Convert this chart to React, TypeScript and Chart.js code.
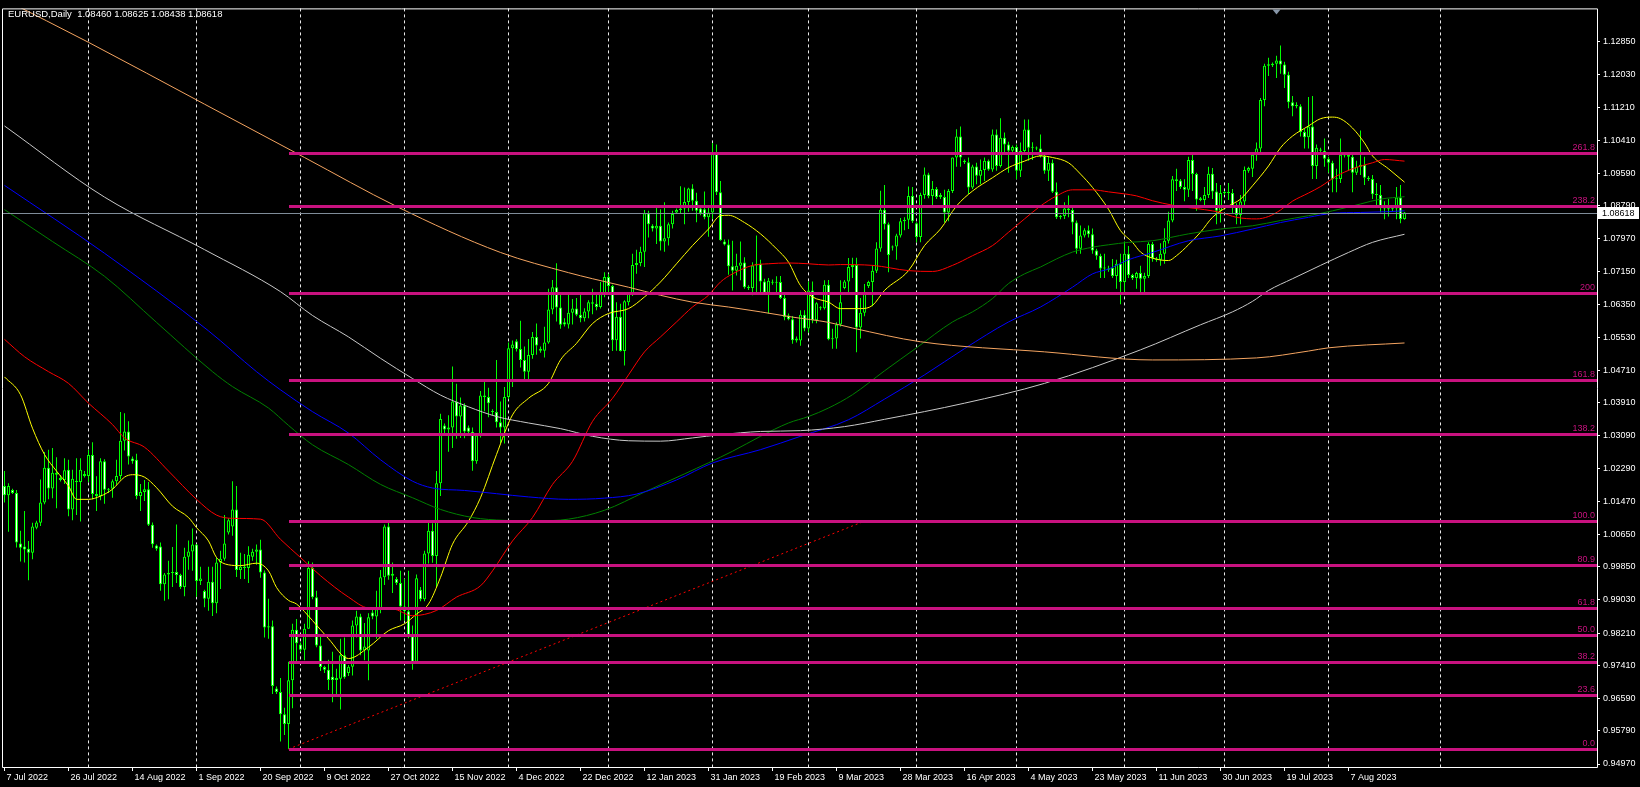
import React, { useEffect, useRef } from "react";
import { Chart, registerables } from "chart.js";
Chart.register(...registerables);

// ---------- DATA ----------
const chartTitle = "EURUSD,Daily  1.08460 1.08625 1.08438 1.08618";
const currentPrice = 1.08618;

const opens = [
1.0185,1.0162,1.0175,1.0168,1.0043,1.0035,1.0030,1.0020,1.0082,1.0094,
1.0144,1.0230,1.0179,1.0218,1.0205,1.0200,1.0225,1.0127,1.0198,1.0195,
1.0215,1.0210,1.0262,1.0165,1.0160,1.0246,1.0176,1.0178,1.0197,1.0210,
1.0297,1.0320,1.0253,1.0250,1.0160,1.0170,1.0177,1.0089,1.0038,1.0035,
0.9942,0.9966,0.9970,0.9972,0.9965,0.9935,1.0010,1.0023,1.0040,0.9950,
0.9925,0.9906,0.9948,0.9895,0.9996,1.0005,1.0070,1.0085,1.0127,0.9977,
0.9985,0.9982,1.0010,1.0022,1.0028,0.9971,0.9835,0.9838,0.9684,0.9675,
0.9620,0.9596,0.9704,0.9829,0.9793,0.9780,0.9832,0.9982,0.9910,0.9790,
0.9737,0.9730,0.9713,0.9705,0.9708,0.9766,0.9722,0.9738,0.9840,0.9862,
0.9778,0.9778,0.9872,0.9862,0.9880,0.9959,1.0085,0.9963,0.9955,0.9945,
0.9887,0.9875,0.9813,0.9750,0.9928,0.9905,1.0018,1.0074,1.0012,1.0192,
1.0335,1.0325,1.0330,1.0394,1.0357,1.0384,1.0330,1.0319,1.0246,1.0310,
1.0409,1.0405,1.0370,1.0368,1.0343,1.0330,1.0405,1.0526,1.0543,1.0524,
1.0497,1.0468,1.0509,1.0554,1.0525,1.0520,1.0540,1.0622,1.0677,1.0627,
1.0590,1.0585,1.0614,1.0624,1.0609,1.0600,1.0617,1.0640,1.0636,1.0628,
1.0661,1.0702,1.0680,1.0546,1.0604,1.0519,1.0640,1.0661,1.0732,1.0737,
1.0765,1.0860,1.0829,1.0822,1.0829,1.0790,1.0798,1.0833,1.0862,1.0868,
1.0872,1.0888,1.0921,1.0891,1.0872,1.0870,1.0850,1.0862,1.1010,1.0912,
1.0790,1.0783,1.0729,1.0718,1.0730,1.0738,1.0678,1.0675,1.0731,1.0735,
1.0691,1.0663,1.0690,1.0688,1.0690,1.0650,1.0607,1.0598,1.0550,1.0545,
1.0609,1.0575,1.0669,1.0595,1.0627,1.0625,1.0683,1.0548,1.0550,1.0585,
1.0675,1.0691,1.0727,1.0732,1.0577,1.0614,1.0680,1.0690,1.0718,1.0773,
1.0869,1.0833,1.0775,1.0778,1.0805,1.0840,1.0844,1.0903,1.0835,1.0801,
1.0905,1.0956,1.0903,1.0920,1.0905,1.0900,1.0862,1.0915,1.0998,1.1050,
1.0990,1.0986,1.0924,1.0976,1.0953,1.0967,1.0990,1.0968,1.1055,1.0977,
1.1047,1.1030,1.1015,1.1024,1.0965,1.1014,1.1067,1.1022,1.1020,1.1020,
1.1002,1.0965,1.0985,1.0913,1.0851,1.0853,1.0872,1.0868,1.0837,1.0772,
1.0805,1.0818,1.0808,1.0768,1.0755,1.0723,1.0723,1.0725,1.0705,1.0735,
1.0690,1.0760,1.0707,1.0700,1.0712,1.0698,1.0705,1.0784,1.0748,1.0745,
1.0760,1.0792,1.0842,1.0944,1.0941,1.0925,1.0918,1.0992,1.0957,1.0897,
1.0893,1.0905,1.0958,1.0914,1.0866,1.0910,1.0912,1.0910,1.0878,1.0856,
1.0889,1.0965,1.0970,1.1005,1.1020,1.1140,1.1225,1.1226,1.1230,1.1238,
1.1228,1.1203,1.1135,1.1128,1.1125,1.1061,1.1048,1.1075,1.0977,1.1018,
1.1015,1.0995,1.0985,1.0944,1.0945,1.1003,1.1005,1.1000,1.0960,1.0975,
1.0980,1.0948,1.0945,1.0907,1.0905,1.0875,1.0872,1.0870,1.0872,1.0899,
1.0846];

const highs = [
1.0222,1.0192,1.0178,1.0175,1.0074,1.0123,1.0049,1.0094,1.0099,1.0201,
1.0269,1.0275,1.0279,1.0256,1.0212,1.0254,1.0250,1.0225,1.0254,1.0254,
1.0222,1.0275,1.0293,1.0209,1.0254,1.0251,1.0180,1.0201,1.0250,1.0368,
1.0365,1.0345,1.0258,1.0265,1.0190,1.0200,1.0195,1.0095,1.0040,1.0045,
0.9970,1.0000,1.0034,1.0090,0.9968,1.0032,1.0050,1.0080,1.0041,0.9985,
0.9928,0.9985,0.9985,1.0008,1.0025,1.0113,1.0105,1.0197,1.0185,1.0020,
1.0017,1.0036,1.0030,1.0040,1.0052,0.9976,0.9906,0.9852,0.9689,0.9710,
0.9636,0.9750,0.9844,0.9856,0.9798,0.9844,0.9999,0.9996,0.9926,0.9817,
0.9740,0.9755,0.9775,0.9733,0.9807,0.9810,0.9742,0.9852,0.9876,0.9869,
0.9846,0.9870,0.9878,0.9926,0.9977,1.0090,1.0094,0.9996,0.9960,0.9975,
0.9955,0.9975,0.9840,0.9966,0.9935,1.0025,1.0094,1.0093,1.0222,1.0364,
1.0340,1.0360,1.0481,1.0438,1.0404,1.0390,1.0335,1.0330,1.0313,1.0420,
1.0444,1.0428,1.0375,1.0497,1.0394,1.0430,1.0540,1.0545,1.0548,1.0594,
1.0530,1.0549,1.0566,1.0587,1.0530,1.0579,1.0673,1.0695,1.0736,1.0660,
1.0600,1.0661,1.0648,1.0650,1.0661,1.0625,1.0645,1.0673,1.0665,1.0690,
1.0714,1.0710,1.0683,1.0640,1.0636,1.0645,1.0665,1.0760,1.0770,1.0777,
1.0868,1.0866,1.0833,1.0874,1.0870,1.0887,1.0837,1.0866,1.0872,1.0927,
1.0924,1.0923,1.0932,1.0911,1.0875,1.0914,1.0875,1.1034,1.1030,1.0940,
1.0795,1.0795,1.0792,1.0760,1.0790,1.0751,1.0682,1.0739,1.0805,1.0745,
1.0698,1.0700,1.0696,1.0704,1.0705,1.0660,1.0612,1.0606,1.0555,1.0620,
1.0620,1.0691,1.0691,1.0640,1.0630,1.0694,1.0695,1.0574,1.0590,1.0694,
1.0695,1.0749,1.0750,1.0750,1.0650,1.0685,1.0693,1.0731,1.0788,1.0916,
1.0930,1.0837,1.0780,1.0809,1.0848,1.0850,1.0926,1.0925,1.0838,1.0911,
1.0973,1.0960,1.0940,1.0925,1.0910,1.0918,1.0920,1.0998,1.1068,1.1075,
1.0993,1.0998,1.0980,1.0985,1.0993,1.0998,1.0993,1.1067,1.1067,1.1095,
1.1060,1.1037,1.1028,1.1030,1.1035,1.1092,1.1092,1.1036,1.1025,1.1055,
1.1005,1.1000,1.0993,1.0936,1.0856,1.0887,1.0904,1.0880,1.0842,1.0830,
1.0823,1.0830,1.0822,1.0772,1.0760,1.0760,1.0730,1.0747,1.0745,1.0760,
1.0790,1.0779,1.0710,1.0715,1.0730,1.0713,1.0788,1.0789,1.0752,1.0786,
1.0823,1.0864,1.0952,1.0970,1.0945,1.0944,1.1000,1.1011,1.0960,1.0900,
1.0925,1.0975,1.0972,1.0935,1.0930,1.0915,1.0935,1.0920,1.0885,1.0905,
1.0976,1.0975,1.1010,1.1035,1.1145,1.1230,1.1245,1.1233,1.1250,1.1275,
1.1235,1.1210,1.1150,1.1135,1.1130,1.1070,1.1148,1.1150,1.1030,1.1022,
1.1045,1.1000,1.0990,1.0970,1.1045,1.1008,1.1010,1.1010,1.0990,1.1065,
1.1000,1.0952,1.0955,1.0935,1.0930,1.0890,1.0895,1.0880,1.0925,1.0930,
1.0863];

const lows = [
1.0144,1.0072,1.0165,1.0033,0.9998,0.9996,0.9952,1.0004,1.0078,1.0086,
1.0140,1.0152,1.0155,1.0130,1.0196,1.0190,1.0110,1.0100,1.0113,1.0097,
1.0206,1.0195,1.0152,1.0123,1.0150,1.0141,1.0168,1.0156,1.0188,1.0201,
1.0273,1.0238,1.0240,1.0152,1.0123,1.0148,1.0086,1.0032,1.0025,0.9926,
0.9901,0.9905,0.9935,0.9945,0.9930,0.9912,0.9978,0.9975,0.9911,0.9940,
0.9885,0.9876,0.9863,0.9870,0.9930,1.0000,1.0065,1.0062,0.9960,0.9955,
0.9955,0.9945,1.0000,0.9990,0.9958,0.9810,0.9807,0.9670,0.9670,0.9553,
0.9569,0.9534,0.9635,0.9750,0.9775,0.9754,0.9832,0.9905,0.9786,0.9727,
0.9722,0.9680,0.9650,0.9665,0.9632,0.9708,0.9715,0.9716,0.9810,0.9766,
0.9754,0.9704,0.9855,0.9807,0.9870,0.9940,0.9953,0.9920,0.9940,0.9852,
0.9852,0.9808,0.9730,0.9745,0.9900,0.9900,0.9993,0.9995,0.9935,1.0160,
1.0310,1.0270,1.0279,1.0302,1.0304,1.0303,1.0312,1.0223,1.0240,1.0305,
1.0370,1.0355,1.0360,1.0330,1.0290,1.0290,1.0400,1.0430,1.0518,1.0478,
1.0443,1.0443,1.0500,1.0510,1.0515,1.0503,1.0537,1.0610,1.0592,1.0574,
1.0580,1.0575,1.0585,1.0605,1.0590,1.0592,1.0600,1.0610,1.0620,1.0624,
1.0652,1.0665,1.0519,1.0520,1.0518,1.0483,1.0632,1.0655,1.0710,1.0729,
1.0727,1.0800,1.0815,1.0784,1.0768,1.0765,1.0780,1.0822,1.0858,1.0860,
1.0833,1.0864,1.0866,1.0838,1.0855,1.0845,1.0802,1.0845,1.0905,1.0792,
1.0780,1.0708,1.0669,1.0706,1.0694,1.0673,1.0670,1.0657,1.0665,1.0661,
1.0658,1.0612,1.0683,1.0664,1.0648,1.0595,1.0595,1.0537,1.0540,1.0532,
1.0568,1.0565,1.0588,1.0588,1.0620,1.0622,1.0546,1.0525,1.0525,1.0580,
1.0672,1.0660,1.0700,1.0516,1.0550,1.0605,1.0675,1.0630,1.0712,1.0765,
1.0820,1.0714,1.0768,1.0745,1.0800,1.0818,1.0821,1.0836,1.0788,1.0788,
1.0896,1.0897,1.0880,1.0895,1.0895,1.0837,1.0840,1.0910,1.0975,1.0975,
1.0982,1.0907,1.0920,1.0932,1.0932,1.0940,1.0965,1.0963,1.0965,1.0973,
1.1010,1.0960,1.1010,1.0945,1.0950,1.1008,1.0990,1.0992,1.1016,1.0998,
1.0958,1.0940,1.0910,1.0846,1.0845,1.0846,1.0850,1.0808,1.0760,1.0760,
1.0800,1.0800,1.0760,1.0745,1.0700,1.0700,1.0715,1.0700,1.0673,1.0635,
1.0665,1.0700,1.0695,1.0673,1.0665,1.0665,1.0700,1.0740,1.0740,1.0730,
1.0735,1.0785,1.0838,1.0915,1.0920,1.0890,1.0900,1.0915,1.0866,1.0890,
1.0880,1.0898,1.0895,1.0833,1.0837,1.0905,1.0893,1.0860,1.0833,1.0833,
1.0880,1.0960,1.0950,1.0990,1.1010,1.1125,1.1200,1.1222,1.1195,1.1205,
1.1170,1.1120,1.1100,1.1120,1.1050,1.1020,1.1020,1.0945,1.0945,1.1010,
1.0975,1.0960,1.0912,1.0912,1.0935,1.0998,1.0965,1.0912,1.0955,1.0955,
1.0930,1.0940,1.0895,1.0880,1.0862,1.0845,1.0852,1.0865,1.0845,1.0835,
1.0844];

const closes = [
1.0162,1.0185,1.0168,1.0045,1.0032,1.0028,1.0020,1.0085,1.0095,1.0144,
1.0230,1.0179,1.0218,1.0213,1.0200,1.0224,1.0127,1.0203,1.0195,1.0225,
1.0210,1.0262,1.0165,1.0160,1.0246,1.0176,1.0178,1.0197,1.0210,1.0297,
1.0320,1.0258,1.0246,1.0160,1.0170,1.0177,1.0089,1.0041,1.0030,0.9942,
0.9966,0.9970,0.9972,0.9965,0.9935,1.0010,1.0023,1.0040,0.9950,0.9956,
0.9906,0.9948,0.9895,0.9996,1.0005,1.0043,1.0100,1.0127,0.9977,0.9985,
0.9982,1.0015,1.0022,1.0028,0.9971,0.9835,0.9838,0.9690,0.9675,0.9620,
0.9596,0.9704,0.9829,0.9796,0.9780,0.9832,0.9982,0.9910,0.9790,0.9737,
0.9730,0.9705,0.9705,0.9710,0.9766,0.9712,0.9738,0.9840,0.9862,0.9778,
0.9788,0.9860,0.9862,0.9880,0.9959,1.0085,0.9963,0.9968,0.9945,0.9887,
0.9875,0.9813,0.9750,0.9957,0.9905,1.0018,1.0074,1.0012,1.0192,1.0351,
1.0325,1.0330,1.0394,1.0357,1.0384,1.0320,1.0319,1.0246,1.0310,1.0409,
1.0405,1.0390,1.0368,1.0343,1.0330,1.0405,1.0526,1.0535,1.0524,1.0497,
1.0468,1.0509,1.0554,1.0533,1.0520,1.0540,1.0622,1.0677,1.0627,1.0584,
1.0585,1.0614,1.0624,1.0609,1.0600,1.0617,1.0640,1.0636,1.0628,1.0661,
1.0702,1.0680,1.0546,1.0604,1.0519,1.0642,1.0661,1.0732,1.0737,1.0765,
1.0860,1.0833,1.0822,1.0829,1.0790,1.0798,1.0833,1.0858,1.0868,1.0872,
1.0888,1.0921,1.0891,1.0866,1.0860,1.0850,1.0862,1.1010,1.0912,1.0793,
1.0783,1.0729,1.0718,1.0730,1.0738,1.0677,1.0675,1.0731,1.0735,1.0691,
1.0663,1.0693,1.0688,1.0690,1.0650,1.0603,1.0598,1.0546,1.0545,1.0609,
1.0575,1.0669,1.0595,1.0637,1.0625,1.0683,1.0548,1.0550,1.0585,1.0640,
1.0691,1.0727,1.0732,1.0577,1.0614,1.0665,1.0690,1.0718,1.0773,1.0869,
1.0833,1.0757,1.0778,1.0805,1.0840,1.0844,1.0903,1.0840,1.0801,1.0905,
1.0956,1.0903,1.0920,1.0900,1.0900,1.0862,1.0915,1.0998,1.1050,1.0998,
1.0986,1.0924,1.0976,1.0953,1.0967,1.0990,1.0968,1.1055,1.0977,1.1047,
1.1030,1.1015,1.1024,1.0965,1.1014,1.1067,1.1022,1.1024,1.1020,1.1002,
1.0965,1.0985,1.0913,1.0850,1.0853,1.0872,1.0868,1.0837,1.0772,1.0805,
1.0818,1.0808,1.0768,1.0755,1.0723,1.0725,1.0720,1.0705,1.0735,1.0690,
1.0760,1.0707,1.0700,1.0712,1.0698,1.0705,1.0784,1.0748,1.0745,1.0760,
1.0792,1.0842,1.0944,1.0940,1.0925,1.0918,1.0992,1.0957,1.0894,1.0893,
1.0905,1.0958,1.0914,1.0866,1.0910,1.0912,1.0910,1.0878,1.0856,1.0889,
1.0967,1.0972,1.1005,1.1020,1.1140,1.1225,1.1229,1.1230,1.1238,1.1228,
1.1203,1.1135,1.1125,1.1125,1.1061,1.1048,1.1075,1.0977,1.1022,1.1015,
1.0995,1.0985,1.0944,1.0945,1.1005,1.1005,1.1000,1.0960,1.0975,1.0980,
1.0948,1.0945,1.0907,1.0905,1.0875,1.0872,1.0870,1.0872,1.0899,1.0846,
1.0862];

// Moving averages (bar index, price)
const yellowIdx = [0,4,7,10,13,16,18,21,24,27,30,32,35,38,42,46,48,51,53,56,59,63,66,68,71,73,77,81,86,91,96,100,103,106,109,112,116,119,123,127,131,136,139,143,147,151,156,160,164,168,172,176,179,181,185,189,193,196,199,202,206,209,214,217,220,226,230,234,238,242,247,251,255,259,262,266,269,272,276,279,282,284,287,291,293,296,299,302,306,309,312,316,319,322,326,329,332,334,337,340,342,346,350];
const yellowVal = [1.0455,1.0411,1.0328,1.0263,1.0222,1.0185,1.0152,1.0152,1.0160,1.0177,1.0207,1.0213,1.0207,1.0181,1.0135,1.0107,1.0082,1.0049,1.0008,0.9990,0.9988,0.9994,0.9975,0.9934,0.9902,0.9893,0.9852,0.9807,0.9758,0.9786,0.9827,0.9844,0.9868,0.9893,0.9959,1.0041,1.0098,1.0156,1.0263,1.0361,1.0402,1.0439,1.0497,1.0538,1.0587,1.0612,1.0624,1.0653,1.0690,1.0735,1.0780,1.0821,1.0854,1.0855,1.0837,1.0809,1.0772,1.0739,1.0681,1.0653,1.0640,1.0624,1.0624,1.0632,1.0669,1.0718,1.0780,1.0821,1.0878,1.0915,1.0948,1.0973,1.0989,1.1002,1.0998,1.0985,1.0957,1.0924,1.0870,1.0817,1.0788,1.0764,1.0749,1.0743,1.0755,1.0782,1.0813,1.0850,1.0878,1.0895,1.0928,1.0977,1.1022,1.1051,1.1076,1.1094,1.1098,1.1094,1.1071,1.1034,1.1002,1.0970,1.0937];

const redIdx = [0,5,11,16,21,27,30,35,41,48,53,57,64,69,74,79,86,91,97,102,108,113,119,122,127,132,137,142,147,152,156,160,164,168,172,176,179,182,187,191,196,201,206,209,217,226,232,237,242,247,251,255,259,263,267,272,276,280,283,287,292,296,300,304,308,313,316,319,322,326,329,333,337,342,345,350];
const redVal = [1.0548,1.0505,1.0468,1.0439,1.0390,1.0337,1.0304,1.0281,1.0222,1.0152,1.0113,1.0105,1.0103,1.0053,1.0008,0.9963,0.9910,0.9883,0.9881,0.9864,0.9877,0.9910,0.9938,0.9975,1.0049,1.0107,1.0189,1.0246,1.0345,1.0402,1.0460,1.0517,1.0554,1.0591,1.0628,1.0657,1.0690,1.0710,1.0731,1.0735,1.0737,1.0735,1.0732,1.0733,1.0731,1.0718,1.0716,1.0731,1.0755,1.0780,1.0813,1.0846,1.0878,1.0903,1.0918,1.0918,1.0913,1.0908,1.0903,1.0891,1.0880,1.0874,1.0869,1.0862,1.0850,1.0846,1.0852,1.0868,1.0890,1.0910,1.0926,1.0952,1.0970,1.0985,1.0993,1.0989];

const greenIdx = [0,12,25,38,52,57,66,71,77,86,94,102,109,117,125,133,141,150,160,170,182,189,196,201,206,212,220,228,237,242,247,251,255,259,263,267,272,276,281,287,296,304,312,319,326,332,339,344,350];
const greenVal = [1.0869,1.0790,1.0704,1.0590,1.0468,1.0431,1.0378,1.0335,1.0287,1.0238,1.0189,1.0156,1.0127,1.0107,1.0100,1.0099,1.0103,1.0125,1.0170,1.0215,1.0271,1.0308,1.0341,1.0357,1.0378,1.0411,1.0470,1.0527,1.0591,1.0616,1.0649,1.0686,1.0710,1.0727,1.0747,1.0764,1.0776,1.0782,1.0788,1.0792,1.0809,1.0821,1.0829,1.0842,1.0854,1.0866,1.0883,1.0895,1.0901];

const blueIdx = [0,25,51,63,69,77,86,94,102,107,115,123,131,141,150,158,168,177,189,199,211,220,230,240,251,259,267,272,276,281,287,296,304,312,319,326,332,339,346,350];
const blueVal = [1.0929,1.0761,1.0569,1.0468,1.0423,1.0369,1.0316,1.0250,1.0197,1.0180,1.0174,1.0166,1.0158,1.0152,1.0155,1.0165,1.0200,1.0242,1.0275,1.0308,1.0349,1.0400,1.0460,1.0525,1.0591,1.0628,1.0677,1.0710,1.0722,1.0745,1.0763,1.0792,1.0804,1.0821,1.0837,1.0850,1.0860,1.0862,1.0864,1.0866];

const whiteIdx = [0,25,50,69,77,86,94,102,109,116,123,131,139,147,156,164,172,179,189,199,210,220,240,260,284,299,307,312,316,322,329,336,342,350];
const whiteVal = [1.1076,1.0900,1.0770,1.0666,1.0607,1.0554,1.0501,1.0451,1.0410,1.0381,1.0357,1.0341,1.0327,1.0308,1.0297,1.0296,1.0304,1.0312,1.0320,1.0322,1.0332,1.0350,1.0390,1.0439,1.0522,1.0584,1.0616,1.0642,1.0669,1.0698,1.0731,1.0763,1.0788,1.0808];

const orangeIdx = [0,21,50,75,98,124,141,147,156,164,172,181,189,197,206,212,229,260,287,313,326,331,350];
const orangeVal = [1.1389,1.1283,1.1130,1.0998,1.0877,1.0763,1.0713,1.0698,1.0677,1.0657,1.0640,1.0628,1.0616,1.0603,1.0590,1.0576,1.0542,1.0517,1.0497,1.0502,1.0519,1.0527,1.0539];

// Fibonacci tool
const fibStartIndex = 71;
const fibPrices = [0.9534,0.9667,0.9749,0.9816,0.9883,0.9990,1.0098,1.0313,1.0447,1.0662,1.0877,1.1010];
const fibLabels = ["0.0","23.6","38.2","50.0","61.8","80.9","100.0","138.2","161.8","200","238.2","261.8"];
const trendIdx = [71, 215];
const trendVal = [0.9534, 1.0098];

// Axes
const yTickValues = [1.12850,1.12030,1.11210,1.10410,1.09590,1.08790,1.07970,1.07150,1.06350,1.05530,1.04710,1.03910,1.03090,1.02290,1.01470,1.00650,0.99850,0.99030,0.98210,0.97410,0.96590,0.95790,0.94970];
const xTickIndex = [0,16,32,48,64,80,96,112,128,144,160,176,192,208,224,240,256,272,288,304,320,336];
const xTickLabels = ["7 Jul 2022","26 Jul 2022","14 Aug 2022","1 Sep 2022","20 Sep 2022","9 Oct 2022","27 Oct 2022","15 Nov 2022","4 Dec 2022","22 Dec 2022","12 Jan 2023","31 Jan 2023","19 Feb 2023","9 Mar 2023","28 Mar 2023","16 Apr 2023","4 May 2023","23 May 2023","11 Jun 2023","30 Jun 2023","19 Jul 2023","7 Aug 2023"];
const monthGridIndex = [21,48,74,100,126,151,177,201,228,253,280,305,331,359];
const shiftMarkerIndex = 318;

// ---------- STYLE ----------
const FONT = '"Liberation Sans", Arial, sans-serif';
const FIB_COLOR = "#C8127F";
const X_MIN = -0.625;
const X_MAX = 398.125;
const Y_MIN = 0.94896;
const Y_MAX = 1.1367;

const line = (xs: number[], ys: number[], color: string, order = 1) => ({
  type: "line" as const,
  data: xs.map((x, k) => ({ x, y: ys[k] })),
  borderColor: color,
  borderWidth: 1,
  pointRadius: 0,
  cubicInterpolationMode: "monotone" as const,
  order,
});

export default function App() {
  const ref = useRef<HTMLCanvasElement>(null);

  useEffect(() => {
    document.body.style.margin = "0";
    document.body.style.background = "#000";
    const canvas = ref.current!;

    const bg = {
      id: "bg",
      beforeDraw(c: any) {
        const { ctx, width, height } = c;
        ctx.save();
        ctx.fillStyle = "#000";
        ctx.fillRect(0, 0, width, height);
        ctx.restore();
      },
    };
    const monthGrid = {
      id: "monthGrid",
      beforeDatasetsDraw(c: any) {
        const { ctx, chartArea, scales } = c;
        ctx.save();
        ctx.strokeStyle = "#e8e8e8";
        ctx.lineWidth = 1;
        ctx.setLineDash([3, 3]);
        monthGridIndex.forEach((v) => {
          const x = scales.x.getPixelForValue(v);
          ctx.beginPath();
          ctx.moveTo(x, chartArea.top);
          ctx.lineTo(x, chartArea.bottom);
          ctx.stroke();
        });
        ctx.restore();
      },
    };
    const overlay = {
      id: "overlay",
      afterDatasetsDraw(c: any) {
        const { ctx, chartArea, scales } = c;
        ctx.save();
        // current price line
        const cy = Math.round(scales.y.getPixelForValue(currentPrice));
        ctx.fillStyle = "#7f8c99";
        ctx.fillRect(chartArea.left, cy, chartArea.right - chartArea.left, 1);
        // fibonacci levels
        const x0 = Math.round(scales.x.getPixelForValue(fibStartIndex));
        ctx.fillStyle = FIB_COLOR;
        fibPrices.forEach((p) => {
          const y = Math.round(scales.y.getPixelForValue(p));
          ctx.fillRect(x0, y - 1, chartArea.right - x0, 3);
        });
        ctx.font = `9px ${FONT}`;
        ctx.textAlign = "right";
        ctx.textBaseline = "bottom";
        fibPrices.forEach((p, k) => {
          const y = Math.round(scales.y.getPixelForValue(p));
          ctx.fillText(fibLabels[k], chartArea.right - 2, y - 1);
        });
        ctx.restore();
      },
      afterDraw(c: any) {
        const { ctx, chartArea, scales, width } = c;
        ctx.save();
        // frame
        ctx.strokeStyle = "#ffffff";
        ctx.lineWidth = 1;
        ctx.beginPath();
        ctx.moveTo(chartArea.left + 0.5, chartArea.bottom + 0.5);
        ctx.lineTo(chartArea.left + 0.5, chartArea.top + 0.5);
        ctx.lineTo(chartArea.right + 0.5, chartArea.top + 0.5);
        ctx.lineTo(chartArea.right + 0.5, chartArea.bottom + 0.5);
        ctx.lineTo(chartArea.left + 0.5, chartArea.bottom + 0.5);
        ctx.stroke();
        // current price label
        const py = Math.round(scales.y.getPixelForValue(currentPrice));
        ctx.fillStyle = "#ffffff";
        ctx.fillRect(chartArea.right + 1, py - 6, width - chartArea.right - 2, 12);
        ctx.fillStyle = "#000000";
        ctx.font = `9px ${FONT}`;
        ctx.textAlign = "left";
        ctx.textBaseline = "middle";
        ctx.fillText(currentPrice.toFixed(5), chartArea.right + 5, py + 0.5);
        // title
        ctx.fillStyle = "#ffffff";
        ctx.font = `9.5px ${FONT}`;
        ctx.textBaseline = "middle";
        ctx.fillText(chartTitle, 8, 14);
        // chart shift marker
        const mx = scales.x.getPixelForValue(shiftMarkerIndex);
        ctx.fillStyle = "#8796a8";
        ctx.beginPath();
        ctx.moveTo(mx - 4, chartArea.top + 1);
        ctx.lineTo(mx + 4, chartArea.top + 1);
        ctx.lineTo(mx, chartArea.top + 6);
        ctx.closePath();
        ctx.fill();
        ctx.restore();
      },
    };

    const idx = opens.map((_, i) => i);
    const bodyColors = idx.map((i) => (closes[i] >= opens[i] ? "#000000" : "#ffffff"));

    const datasets: any[] = [
      {
        type: "line",
        data: trendIdx.map((x, k) => ({ x, y: trendVal[k] })),
        borderColor: "#ff0000",
        borderWidth: 1,
        borderDash: [2, 3],
        pointRadius: 0,
        order: 0,
      },
      line(orangeIdx, orangeVal, "#F4A460"),
      line(whiteIdx, whiteVal, "#C8C8C8"),
      line(blueIdx, blueVal, "#0000FF"),
      line(greenIdx, greenVal, "#008000"),
      line(redIdx, redVal, "#FF0000"),
      line(yellowIdx, yellowVal, "#FFFF00"),
      {
        type: "bar",
        data: idx.map((i) => ({ x: i, y: [opens[i], closes[i]] })),
        backgroundColor: bodyColors,
        borderColor: "#00ff00",
        borderWidth: 1,
        borderSkipped: false,
        barThickness: 3,
        minBarLength: 1,
        grouped: false,
        inflateAmount: 0,
        order: 2,
      },
      {
        type: "bar",
        data: idx.map((i) => ({ x: i, y: [lows[i], highs[i]] })),
        backgroundColor: "#00ff00",
        borderWidth: 0,
        barThickness: 1,
        minBarLength: 1,
        grouped: false,
        inflateAmount: 0,
        order: 3,
      },
    ];

    const chart = new Chart(canvas, {
      type: "bar",
      data: { datasets },
      options: {
        animation: false,
        responsive: false,
        devicePixelRatio: 1,
        events: [],
        layout: { padding: { left: 2, top: 5, right: 0, bottom: 0 } },
        plugins: { legend: { display: false }, tooltip: { enabled: false } },
        scales: {
          x: {
            type: "linear",
            min: X_MIN,
            max: X_MAX,
            offset: false,
            afterBuildTicks: (s: any) => {
              s.ticks = xTickIndex.map((v) => ({ value: v }));
            },
            afterFit: (s: any) => {
              s.height = 20;
            },
            ticks: {
              autoSkip: false,
              maxRotation: 0,
              align: "start",
              labelOffset: 2,
              padding: 1,
              color: "#ffffff",
              font: { family: FONT, size: 9 },
              callback: (_v: any, i: number) => xTickLabels[i],
            },
            grid: {
              offset: false,
              drawOnChartArea: false,
              drawTicks: true,
              tickLength: 4,
              color: "#ffffff",
            },
            border: { display: false },
          },
          y: {
            type: "linear",
            position: "right",
            min: Y_MIN,
            max: Y_MAX,
            afterBuildTicks: (s: any) => {
              s.ticks = yTickValues.map((v) => ({ value: v }));
            },
            afterFit: (s: any) => {
              s.width = 43;
            },
            ticks: {
              autoSkip: false,
              padding: 3,
              color: "#ffffff",
              font: { family: FONT, size: 9 },
              callback: (v: any) => Number(v).toFixed(5),
            },
            grid: {
              drawOnChartArea: false,
              drawTicks: true,
              tickLength: 3,
              color: "#ffffff",
            },
            border: { display: false },
          },
        },
      } as any,
      plugins: [bg, monthGrid, overlay],
    });
    return () => chart.destroy();
  }, []);

  return (
    <div style={{ width: 1640, height: 787, background: "#000" }}>
      <canvas ref={ref} width={1640} height={787} style={{ display: "block" }} />
    </div>
  );
}
